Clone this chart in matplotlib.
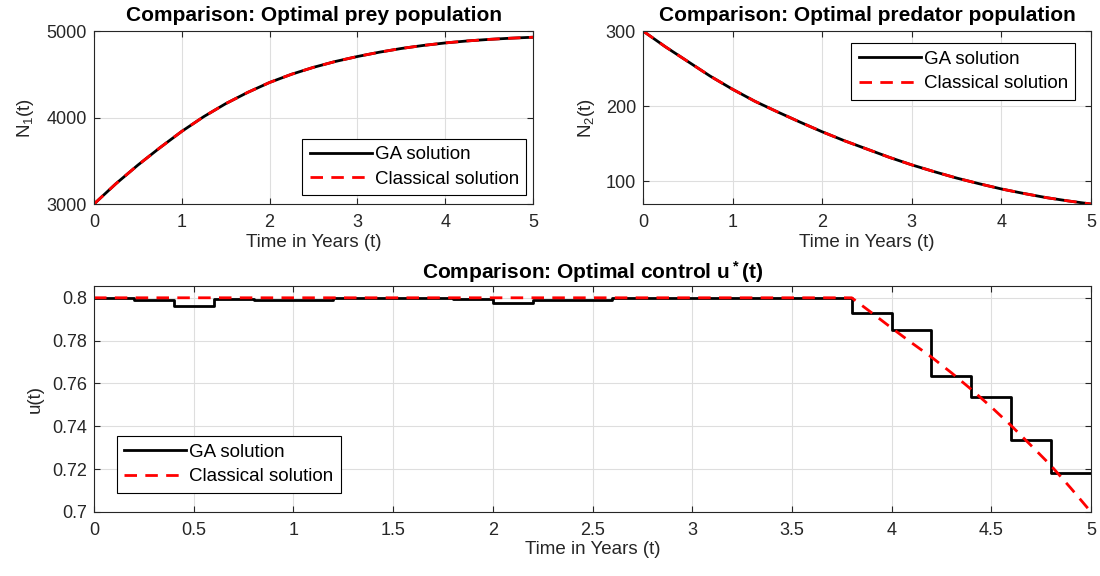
import numpy as np
import matplotlib.pyplot as plt

plt.rcParams['font.family'] = ['Liberation Sans', 'DejaVu Sans']
plt.rcParams['mathtext.fontset'] = 'custom'
plt.rcParams['mathtext.rm'] = 'Liberation Sans'
plt.rcParams['mathtext.default'] = 'regular'

# populations (GA and classical overlap)
t_pop = [0, 0.25, 0.5, 0.75, 1, 1.25, 1.5, 1.75, 2, 2.25, 2.5,
         2.75, 3, 3.25, 3.5, 3.75, 4, 4.25, 4.5, 4.75, 5]
prey_ga = [3000, 3235, 3450, 3650, 3840, 4010, 4160, 4290, 4405, 4500, 4580,
           4648, 4705, 4755, 4798, 4833, 4862, 4885, 4903, 4917, 4928]
prey_classical = [3000, 3235, 3450, 3650, 3840, 4010, 4160, 4290, 4405, 4500, 4580,
                  4648, 4705, 4755, 4798, 4833, 4862, 4885, 4903, 4917, 4928]
pred_ga = [300, 279, 259.5, 240, 222.5, 206.5, 192.5, 179, 166, 154, 143,
           132, 122, 113, 104.5, 97, 90, 84, 78.5, 74, 70]
pred_classical = [300, 279, 259.5, 240, 222.5, 206.5, 192.5, 179, 166, 154, 143,
                  132, 122, 113, 104.5, 97, 90, 84, 78.5, 74, 70]

# control: GA piecewise constant on 0.2-year intervals
t_ga = [0, 0.2, 0.4, 0.6, 0.8, 1.0, 1.2, 1.4, 1.6, 1.8, 2.0, 2.2, 2.4,
        2.6, 2.8, 3.0, 3.2, 3.4, 3.6, 3.8, 4.0, 4.2, 4.4, 4.6, 4.8, 5.0]
u_ga = [0.8, 0.7988, 0.7963, 0.7992, 0.7988, 0.7988, 0.8, 0.8, 0.8, 0.7992,
        0.7975, 0.799, 0.799, 0.8, 0.8, 0.8, 0.8, 0.8, 0.8, 0.7927,
        0.7848, 0.7637, 0.7539, 0.7336, 0.7184, 0.7184]
t_cl = [0, 3.8, 3.9, 4.0, 4.1, 4.2, 4.3, 4.4, 4.5, 4.6, 4.7, 4.8, 4.9, 5.0]
u_cl = [0.8, 0.8, 0.793, 0.7859, 0.779, 0.7723, 0.765, 0.7572, 0.749,
        0.7403, 0.731, 0.7216, 0.711, 0.700]

edge = '#262626'
fs_tick = 13
fs_lab = 13.5
fs_leg = 13.5
fs_title = 15
dash = (4.5, 3)

def style(ax):
    ax.grid(True, color='#dedede', linewidth=0.8)
    ax.set_axisbelow(True)
    ax.tick_params(direction='in', top=True, right=True, labelsize=fs_tick,
                   colors=edge, length=4)
    ax.tick_params(axis='x', pad=7)
    ax.tick_params(axis='y', pad=5)
    for s in ax.spines.values():
        s.set_color(edge)
        s.set_linewidth(0.8)

def legend(ax, loc, **kw):
    lg = ax.legend(loc=loc, fontsize=fs_leg, fancybox=False, framealpha=1,
                   edgecolor='black', handlelength=3.3, borderpad=0.4,
                   labelspacing=0.4, handletextpad=0.15, borderaxespad=0, **kw)
    lg.get_frame().set_linewidth(0.8)

fig = plt.figure(figsize=(11, 5.76), dpi=100)

ax1 = fig.add_axes([94/1100, 1-204/576, 439/1100, 173/576])
ax1.plot(t_pop, prey_ga, color='black', lw=2, label='GA solution')
ax1.plot(t_pop, prey_classical, color='red', lw=2, ls='--', dashes=dash,
         label='Classical solution')
ax1.set_xlim(0, 5)
ax1.set_ylim(3000, 5000)
ax1.set_yticks([3000, 4000, 5000])
ax1.set_xlabel('Time in Years (t)', fontsize=fs_lab, color=edge, labelpad=2)
ax1.set_ylabel('N$_1$(t)', fontsize=fs_lab, color=edge, labelpad=8)
ax1.set_title('Comparison: Optimal prey population', fontsize=fs_title,
              fontweight='bold', pad=7)
style(ax1)
legend(ax1, 'lower right', bbox_to_anchor=(0.985, 0.05))

ax2 = fig.add_axes([643/1100, 1-204/576, 448/1100, 173/576])
ax2.plot(t_pop, pred_ga, color='black', lw=2, label='GA solution')
ax2.plot(t_pop, pred_classical, color='red', lw=2, ls='--', dashes=dash,
         label='Classical solution')
ax2.set_xlim(0, 5)
ax2.set_ylim(70, 300)
ax2.set_yticks([100, 200, 300])
ax2.set_xlabel('Time in Years (t)', fontsize=fs_lab, color=edge, labelpad=2)
ax2.set_ylabel('N$_2$(t)', fontsize=fs_lab, color=edge, labelpad=6)
ax2.set_title('Comparison: Optimal predator population', fontsize=fs_title,
              fontweight='bold', pad=7)
style(ax2)
legend(ax2, 'upper right', bbox_to_anchor=(0.965, 0.93))

ax3 = fig.add_axes([94/1100, 1-512/576, 997/1100, 226/576])
ax3.plot(t_ga, u_ga, color='black', lw=2, drawstyle='steps-post',
         label='GA solution')
ax3.plot(t_cl, u_cl, color='red', lw=2, ls='--', dashes=dash,
         label='Classical solution')
ax3.set_xlim(0, 5)
ax3.set_ylim(0.7, 0.8055)
ax3.set_xticks(np.arange(0, 5.01, 0.5))
ax3.set_xticklabels(['0', '0.5', '1', '1.5', '2', '2.5', '3', '3.5', '4', '4.5', '5'])
ax3.set_yticks([0.7, 0.72, 0.74, 0.76, 0.78, 0.8])
ax3.set_yticklabels(['0.7', '0.72', '0.74', '0.76', '0.78', '0.8'])
ax3.set_xlabel('Time in Years (t)', fontsize=fs_lab, color=edge, labelpad=2)
ax3.set_ylabel('u(t)', fontsize=fs_lab, color=edge, labelpad=6)
ax3.set_title('Comparison: Optimal control u$^*$(t)', fontsize=fs_title,
              fontweight='bold', pad=5)
style(ax3)
legend(ax3, 'lower left', bbox_to_anchor=(0.023, 0.085))

fig.savefig('out.png', dpi=100)
